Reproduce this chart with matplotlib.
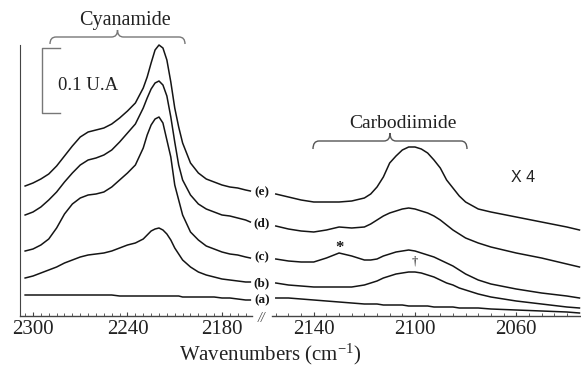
import matplotlib
matplotlib.use("Agg")
import matplotlib.pyplot as plt
from matplotlib.path import Path
from matplotlib.patches import PathPatch
import numpy as np

plt.rcParams['font.family'] = ['Liberation Serif', 'DejaVu Serif']
plt.rcParams['mathtext.fontset'] = 'custom'
plt.rcParams['mathtext.rm'] = 'Liberation Serif'
plt.rcParams['mathtext.it'] = 'Liberation Serif:italic'

# ---------------- data (stacked absorbance, arbitrary units; 65 units = 0.1 U.A.) ----------------
wn_left = [2305, 2300, 2295, 2290, 2285, 2280, 2275, 2270, 2265, 2260, 2255, 2250,
           2245, 2240, 2235, 2230, 2227.5, 2225, 2222.5, 2220, 2217.5, 2215, 2212.5,
           2210, 2207.5, 2205, 2200, 2195, 2190, 2185, 2180, 2175, 2170, 2165, 2162]
wn_right = [2155, 2150, 2145, 2140, 2135, 2130, 2125, 2120, 2117.5, 2115, 2112.5, 2110,
            2107.5, 2105, 2102.5, 2100, 2097.5, 2095, 2092.5, 2090, 2087.5, 2085,
            2082.5, 2080, 2075, 2070, 2060, 2050, 2040, 2035]

e_left = [130, 133, 137, 142, 150, 160, 170, 179, 184, 186, 188, 192, 198, 205, 213, 228,
          239, 253, 266, 271, 268, 256, 234, 208, 189, 173, 153, 143, 137, 134, 131, 129,
          128, 126, 125]
d_left = [101, 104, 109, 116, 124, 134, 143, 151, 156, 158, 161, 166, 174, 183, 192, 208,
          218, 227, 233, 235, 231, 220, 199, 174, 151, 136, 121, 112, 107, 104, 101, 100,
          98, 96, 94]
c_left = [65, 67, 71, 77, 88, 102, 112, 118, 121, 122, 124, 129, 136, 143, 151, 168,
          181, 191, 197, 199, 193, 176, 159, 131, 116, 101, 84, 76, 70, 67, 64, 62,
          61, 59, 58]
b_left = [38, 40, 43, 46, 49, 53, 56, 59, 61, 62, 63, 65, 68, 71, 73, 77,
          81, 85, 87, 88, 86, 82, 76, 68, 62, 56, 49, 44, 41, 39, 37, 36,
          35, 34, 34]
a_left = [21, 21, 21, 21, 21, 21, 21, 21, 21, 21, 21, 21, 20, 20, 20, 20,
          20, 20, 20, 20, 20, 20, 20, 20, 20, 19, 19, 19, 19, 19, 18, 18,
          17, 16, 16]

e_right = [122, 119, 116, 114, 114, 114, 115, 118, 122, 129, 139, 153, 160, 166, 169,
           169, 167, 163, 156, 148, 136, 128, 120, 114, 107, 104, 99, 94, 89, 86]
d_right = [90, 87, 85, 84, 86, 89, 88, 89, 92, 96, 100, 103, 105, 107, 108,
           107, 105, 103, 100, 96, 91, 86, 82, 78, 73, 69, 63, 58, 52, 49]
c_right = [57, 55, 54, 54, 58, 63, 60, 56, 56, 57, 60, 62, 64, 65, 66,
           65, 63, 61, 59, 56, 53, 50, 46, 42, 36, 32, 27, 23, 20, 18]
b_right = [33, 31, 30, 29, 29, 29, 29, 31, 33, 35, 38, 40, 42, 43, 44,
           44, 43, 41, 39, 36, 33, 31, 28, 26, 22, 19, 15, 12, 9, 8]
a_right = [18, 18, 17, 16, 15, 14, 13, 12, 12, 12, 11, 11, 11, 11, 10,
           10, 10, 10, 9, 9, 9, 9, 8, 8, 8, 7, 6, 5, 4, 3]

labels = ['(e)', '(d)', '(c)', '(b)', '(a)']
left_series = [e_left, d_left, c_left, b_left, a_left]
right_series = [e_right, d_right, c_right, b_right, a_right]
ticks_left = [2300, 2240, 2180]
ticks_right = [2140, 2100, 2060]

# ---------------- figure ----------------
W, H = 581, 366
fig = plt.figure(figsize=(W / 100, H / 100), dpi=100)
fig.patch.set_facecolor('white')

axL = fig.add_axes([20 / W, 50 / H, 232 / W, 316 / H])
axR = fig.add_axes([272 / W, 50 / H, 309 / W, 316 / H])
axL.set_xlim(2308.25, 2160.95)
axR.set_xlim(2156.5, 2034.4)

line_col = '#151515'
for ax, xs, series in [(axL, wn_left, left_series), (axR, wn_right, right_series)]:
    for s in series:
        ax.plot(xs, s, color=line_col, lw=1.1, solid_joinstyle='round')
    ax.set_ylim(0, 316)
    ax.patch.set_alpha(0)
    for sp in ['top', 'right', 'left']:
        ax.spines[sp].set_visible(False)
    ax.spines['bottom'].set_color('#444444')
    ax.spines['bottom'].set_linewidth(1.0)
    ax.set_yticks([])
    ax.tick_params(axis='x', which='both', direction='in', colors='#444444',
                   labelcolor='#222222', labelsize=15, pad=3)
    ax.tick_params(axis='x', which='major', length=3)
    ax.tick_params(axis='x', which='minor', length=2)

axL.spines['left'].set_visible(True)
axL.spines['left'].set_color('#444444')
axL.spines['left'].set_bounds(0, 316 - 45)
axL.set_xticks(ticks_left)
axL.set_xticks(np.arange(2305, 2160, -5), minor=True)
axR.set_xticks(ticks_right)
axR.set_xticks(np.arange(2155, 2035, -5), minor=True)

# ---------------- overlay in pixel coordinates ----------------
ov = fig.add_axes([0, 0, 1, 1], zorder=5)
ov.set_xlim(0, W)
ov.set_ylim(H, 0)
ov.axis('off')


def brace(x0, x1, yline, yend, ytip, color):
    xm = (x0 + x1) / 2.0
    r = 6
    verts = [(x0, yend), (x0, yline), (x0 + r, yline), (xm - r, yline),
             (xm, yline), (xm, ytip), (xm, ytip), (xm, yline),
             (xm + r, yline), (x1 - r, yline), (x1, yline), (x1, yend)]
    codes = [Path.MOVETO, Path.CURVE3, Path.CURVE3, Path.LINETO,
             Path.CURVE3, Path.CURVE3, Path.MOVETO, Path.CURVE3,
             Path.CURVE3, Path.LINETO, Path.CURVE3, Path.CURVE3]
    ov.add_patch(PathPatch(Path(verts, codes), fc='none', ec=color, lw=1.0))


brace(50, 185, 37, 44, 30, '#777777')
brace(313, 467, 141, 149, 133, '#555555')

ov.text(125, 21, 'Cyanamide', ha='center', va='center', fontsize=14.5, color='#222222')
ov.text(403, 123, 'Carbodiimide', ha='center', va='center', fontsize=14, color='#222222')

# scale bar (65 units = 0.1 U.A.)
ov.plot([60, 42, 42, 60], [48, 48, 113, 113], color='#777777', lw=1.0)
ov.text(58, 86, '0.1 U.A', ha='left', va='center', fontsize=13.5, color='#222222')

ov.text(523, 177, 'X 4', ha='center', va='center', fontsize=11.5,
        family=['Liberation Sans', 'DejaVu Sans'], color='#222222')

label_y = [192, 223, 257, 283, 300]
for lab, yy in zip(labels, label_y):
    ov.text(262, yy, lab, ha='center', va='center', fontsize=9.5,
            fontweight='bold', color='#151515')

ov.text(340, 248, '*', ha='center', va='center', fontsize=12, fontweight='bold', color='#151515')
ov.text(415, 262, '\u2020', ha='center', va='center', fontsize=9, color='#151515')

# axis break mark
ov.text(262, 318, '//', ha='center', va='center', fontsize=10, style='italic', color='#444444')

ov.text(270, 360, 'Wavenumbers (cm$^{\\mathregular{-1}}$)', ha='center', va='baseline',
        fontsize=15, color='#222222')

fig.savefig('out.png', dpi=100, facecolor='white')
